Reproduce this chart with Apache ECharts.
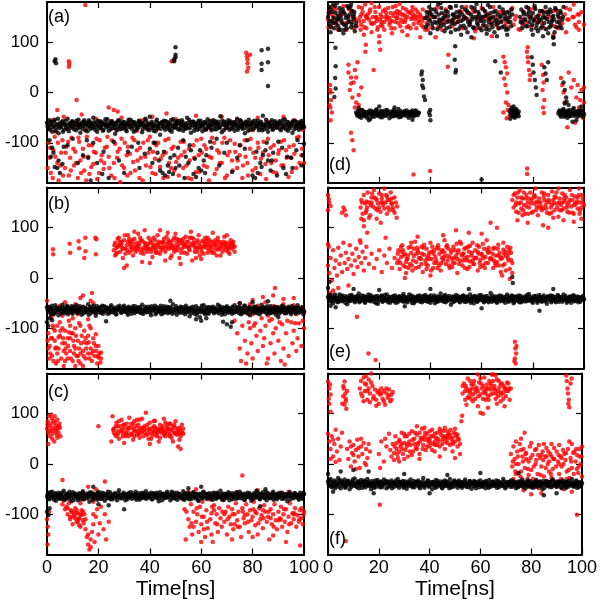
<!DOCTYPE html>
<html><head><meta charset="utf-8">
<script src="https://cdn.jsdelivr.net/npm/echarts@6/dist/echarts.min.js"></script>
<style>html,body{margin:0;padding:0;background:#fff}#c{width:600px;height:601px}</style>
</head><body><div id="c"></div>
<script>
// ---- tick labels / categories ----
const xTicks = [0, 20, 40, 60, 80, 100];
const yTicks = [-100, 0, 100];
const panelLabels = ['(a)', '(b)', '(c)', '(d)', '(e)', '(f)'];
const axisTitle = 'Time[ns]';

// ---- data: flat lists of time(ns), angle pairs ----
const aBlack = [
0,-60,0.5,-72,1,-65,1.5,-58,2,-78,2.5,-66,3,-54,3.5,-70,4,-63,4.5,-81,5,-61,5.5,-68,6,-57,6.5,-74,7,-64,7.5,-69,8,-52,8.5,-77,9,-62,9.5,-67,
10,-59,10.5,-73,11,-65,11.5,-56,12,-71,12.5,-63,13,-80,13.5,-60,14,-66,14.5,-55,15,-75,15.5,-62,16,-68,16.5,-58,17,-72,17.5,-64,18,-50,18.5,-69,19,-61,19.5,-78,
20,-66,20.5,-57,21,-70,21.5,-63,22,-74,22.5,-60,23,-67,23.5,-53,24,-76,24.5,-64,25,-59,25.5,-71,26,-65,26.5,-82,27,-61,27.5,-68,28,-56,28.5,-73,29,-63,29.5,-58,
30,-70,30.5,-66,31,-77,31.5,-60,32,-64,32.5,-54,33,-72,33.5,-67,34,-59,34.5,-75,35,-62,35.5,-69,36,-57,36.5,-65,37,-79,37.5,-61,38,-68,38.5,-55,39,-73,39.5,-64,
40,-48,40.5,-70,41,-62,41.5,-76,42,-66,42.5,-58,43,-71,43.5,-63,44,-84,44.5,-60,45,-67,45.5,-56,46,-74,46.5,-65,47,-59,47.5,-72,48,-62,48.5,-78,49,-53,49.5,-68,
50,-64,50.5,-57,51,-73,51.5,-61,52,-69,52.5,-55,53,-76,53.5,-63,54,-66,54.5,-50,55,-71,55.5,-60,56,-80,56.5,-65,57,-58,57.5,-70,58,-62,58.5,-74,59,-56,59.5,-67,
60,-61,60.5,-77,61,-64,61.5,-59,62,-72,62.5,-53,63,-68,63.5,-63,64,-75,64.5,-60,65,-66,65.5,-57,66,-73,66.5,-62,67,-69,67.5,-47,68,-79,68.5,-64,69,-58,69.5,-71,
70,-65,70.5,-55,71,-74,71.5,-61,72,-67,72.5,-59,73,-76,73.5,-63,74,-52,74.5,-70,75,-66,75.5,-57,76,-72,76.5,-62,77,-81,77.5,-60,78,-68,78.5,-54,79,-74,79.5,-64,
80,-58,80.5,-71,81,-63,81.5,-67,82,-56,82.5,-75,83,-61,83.5,-69,84,-46,84.5,-73,85,-65,85.5,-59,86,-78,86.5,-62,87,-66,87.5,-55,88,-72,88.5,-63,89,-60,89.5,-70,
90,-64,90.5,-57,91,-75,91.5,-61,92,-68,92.5,-53,93,-73,93.5,-65,94,-59,94.5,-71,95,-62,95.5,-80,96,-66,96.5,-56,97,-70,97.5,-63,98,-74,98.5,-58,99,-67,99.5,-61,100,-69,
1,-95,2,-110,1.5,-128,3,-148,4,-150,5,-160,6,-142,8,-105,10,-92,12,-140,14,-125,16,-130,17,-175,18,-100,22,-118,24,-170,26,-98,28,-135,30,-160,33,-108,
36,-150,38,-122,40,-112,41,-140,42,-100,43,-120,44,-155,45,-160,46,-165,47,-145,48,-130,49,-162,50,-150,51,-110,53,-95,54,-128,55,-140,56,-115,57,-162,58,-168,
59,-150,60,-155,61,-135,62,-125,64,-110,66,-92,67,-145,69,-120,70,-100,72,-158,74,-130,75,-105,77,-112,78,-95,80,-165,81,-170,82,-160,83,-140,84,-125,85,-115,
86,-135,87,-155,88,-120,90,-98,92,-150,93,-162,95,-130,97,-115,99,-145,100,-102,
41.5,-100,43.5,-135,45.5,-118,47.5,-158,49.5,-125,51.5,-145,53.5,-170,55.5,-105,57.5,-132,59.5,-115,61.5,-160,63.5,-98,2.5,-120,4.5,-135,6.5,-108,15.5,-95,19.5,-140,21.5,-162,
81.5,-118,83.5,-148,85.5,-100,87.5,-135,89.5,-165,91.5,-110,93.5,-128,95.5,-150,97.5,-95,99.5,-125,31.5,-118,35.5,-100,
3,62,3.3,66,3.5,58,49.5,62,49.5,66,50,70,50,75,50,90,83.5,84,83.5,57,83.5,45,86,87,86,60,86,13
];
const aBlackDense = [
0.25,-67,0.75,-55,1.25,-74,1.75,-62,2.25,-69,2.75,-58,3.25,-76,3.75,-64,4.25,-52,4.75,-71,5.25,-66,5.75,-59,6.25,-78,6.75,-63,7.25,-56,7.75,-72,8.25,-65,8.75,-61,9.25,-70,9.75,-57,
10.25,-68,10.75,-62,11.25,-75,11.75,-60,12.25,-54,12.75,-69,13.25,-64,13.75,-72,14.25,-58,14.75,-66,15.25,-61,15.75,-77,16.25,-55,16.75,-67,17.25,-63,17.75,-70,18.25,-59,18.75,-74,19.25,-65,19.75,-56,
20.25,-71,20.75,-62,21.25,-58,21.75,-76,22.25,-64,22.75,-53,23.25,-69,23.75,-61,24.25,-66,24.75,-73,25.25,-57,25.75,-63,26.25,-70,26.75,-60,27.25,-75,27.75,-55,28.25,-67,28.75,-62,29.25,-72,29.75,-65,
30.25,-59,30.75,-74,31.25,-63,31.75,-54,32.25,-69,32.75,-66,33.25,-58,33.75,-78,34.25,-62,34.75,-67,35.25,-71,35.75,-56,36.25,-64,36.75,-60,37.25,-73,37.75,-66,38.25,-52,38.75,-69,39.25,-61,39.75,-75,
40.25,-63,40.75,-58,41.25,-70,41.75,-65,42.25,-77,42.75,-54,43.25,-67,43.75,-61,44.25,-72,44.75,-59,45.25,-64,45.75,-70,46.25,-57,46.75,-68,47.25,-63,47.75,-75,48.25,-55,48.75,-66,49.25,-71,49.75,-60,
50.25,-69,50.75,-62,51.25,-56,51.75,-74,52.25,-65,52.75,-59,53.25,-68,53.75,-72,54.25,-61,54.75,-66,55.25,-54,55.75,-70,56.25,-63,56.75,-58,57.25,-76,57.75,-64,58.25,-67,58.75,-60,59.25,-72,59.75,-56,
60.25,-65,60.75,-69,61.25,-59,61.75,-74,62.25,-62,62.75,-66,63.25,-57,63.75,-71,64.25,-64,64.75,-55,65.25,-73,65.75,-61,66.25,-67,66.75,-58,67.25,-70,67.75,-63,68.25,-56,68.75,-75,69.25,-65,69.75,-60,
70.25,-68,70.75,-62,71.25,-57,71.75,-72,72.25,-64,72.75,-69,73.25,-59,73.75,-66,74.25,-74,74.75,-61,75.25,-55,75.75,-67,76.25,-63,76.75,-71,77.25,-58,77.75,-65,78.25,-76,78.75,-60,79.25,-68,79.75,-62,
80.25,-73,80.75,-56,81.25,-66,81.75,-61,82.25,-70,82.75,-64,83.25,-58,83.75,-75,84.25,-63,84.75,-67,85.25,-54,85.75,-71,86.25,-62,86.75,-68,87.25,-59,87.75,-74,88.25,-65,88.75,-57,89.25,-69,89.75,-63,
90.25,-60,90.75,-72,91.25,-66,91.75,-55,92.25,-70,92.75,-63,93.25,-58,93.75,-76,94.25,-64,94.75,-67,95.25,-61,95.75,-57,96.25,-73,96.75,-65,97.25,-59,97.75,-68,98.25,-62,98.75,-71,99.25,-56,99.75,-66
];
const aRed = [
0.5,-70,2,-55,3.5,-78,5,-62,6.5,-48,8,-72,10,-58,12,-66,13.5,-44,15,-75,17,-60,19,-52,21,-70,23,-63,25,-57,27,-74,29,-50,31,-68,33,-61,35,-76,
37,-55,39,-64,41,-48,43,-72,45,-59,46.5,-42,48,-67,50,-53,52,-62,54,-71,56,-58,58,-46,60,-65,62,-73,64,-56,66,-62,68,-48,70,-70,72,-60,74,-54,
76,-68,78,-63,80,-75,82,-50,84,-66,86,-58,88,-72,90,-61,92,-48,94,-69,96,-55,98,-64,99.5,-74,11.5,-15,4,-35,24,-30,26,-35,27.5,-38,
0.5,-100,1,-130,1.5,-160,2.5,-115,3,-88,4,-140,4.5,-175,5.5,-120,6,-95,7,-150,7.5,-108,8.5,-165,9,-130,9.5,-90,10.5,-145,11,-118,12,-170,12.5,-98,13,-135,14,-112,
14.5,-155,15.5,-88,16,-128,16.5,-162,17.5,-105,18,-142,19,-120,19.5,-172,20.5,-95,21,-135,22,-152,22.5,-110,23.5,-88,24,-128,25,-165,26,-140,26.5,-102,27.5,-118,28.5,-178,29,-92,
30,-150,31,-125,31.5,-108,32.5,-160,33.5,-138,34,-95,35,-115,36,-170,36.5,-130,37.5,-100,38.5,-145,39.5,-120,40,-88,41,-160,42,-132,42.5,-105,44,-148,45,-125,46,-95,47,-168,
47.5,-140,48.5,-112,49.5,-155,51,-130,52,-98,53,-150,53.5,-118,55,-170,55.5,-135,57,-105,58,-158,59,-125,60,-92,61,-145,62,-112,63,-175,64,-130,65,-100,66,-152,67,-120,
68,-140,69,-90,70,-165,71,-118,72,-135,73,-102,74,-150,75,-125,76,-170,77,-95,78,-140,79,-112,80,-155,81,-130,82,-100,83,-162,84,-120,85,-142,86,-92,87,-110,
88,-158,89,-135,90,-122,91,-98,92,-145,93,-115,94,-168,95,-130,96,-105,97,-150,98,-88,99,-125,100,-140,
0.25,-150,1.25,-110,2.25,-170,3.25,-128,4.25,-100,5.25,-145,6.25,-165,7.25,-120,8.25,-98,9.25,-155,10.25,-112,11.25,-140,12.25,-90,13.25,-160,14.25,-128,15.25,-175,16.25,-105,17.25,-148,18.25,-118,19.25,-92,
20.25,-160,21.25,-125,22.25,-140,23.25,-108,24.25,-150,25.25,-95,26.25,-170,27.25,-130,28.25,-112,29.25,-145,30.25,-100,31.25,-165,32.25,-122,33.25,-90,34.25,-155,35.25,-135,36.25,-110,37.25,-175,38.25,-128,39.25,-95,
40.25,-148,41.25,-118,42.25,-162,43.25,-100,44.25,-132,45.25,-170,46.25,-120,47.25,-92,48.25,-150,49.25,-108,50.25,-138,51.25,-165,52.25,-125,53.25,-98,54.25,-145,55.25,-112,56.25,-172,57.25,-130,58.25,-95,59.25,-158,
60.25,-120,61.25,-105,62.25,-148,63.25,-128,64.25,-90,65.25,-162,66.25,-115,67.25,-140,68.25,-100,69.25,-170,70.25,-125,71.25,-95,72.25,-155,73.25,-118,74.25,-135,75.25,-105,76.25,-145,77.25,-128,78.25,-165,79.25,-92,
80.25,-120,81.25,-150,82.25,-110,83.25,-132,84.25,-98,85.25,-172,86.25,-125,87.25,-140,88.25,-105,89.25,-160,90.25,-115,91.25,-145,92.25,-95,93.25,-130,94.25,-108,95.25,-158,96.25,-122,97.25,-90,98.25,-140,99.25,-112,
8.5,62,8.7,57,8.5,51,14.9,174,48.5,62,49,63,77.5,79,77.8,72,78,66,78,58,78.3,49,77.8,42,79,75
];
const bBlack = [
0,-58,0.5,-66,1,-61,1.5,-72,2,-55,2.5,-64,3,-69,3.5,-59,4,-63,4.5,-74,5,-60,5.5,-67,6,-53,6.5,-65,7,-70,7.5,-61,8,-58,8.5,-68,9,-63,9.5,-56,
10,-71,10.5,-62,11,-66,11.5,-54,12,-69,12.5,-60,13,-64,13.5,-73,14,-57,14.5,-65,15,-61,15.5,-68,16,-52,16.5,-63,17,-70,17.5,-59,18,-66,18.5,-62,19,-75,19.5,-56,
20,-64,20.5,-60,21,-69,21.5,-55,22,-67,22.5,-62,23,-58,23.5,-71,24,-63,24.5,-66,25,-54,25.5,-68,26,-61,26.5,-65,27,-72,27.5,-57,28,-63,28.5,-60,29,-69,29.5,-64,
30,-55,30.5,-67,31,-62,31.5,-73,32,-59,32.5,-65,33,-61,33.5,-56,34,-70,34.5,-63,35,-66,35.5,-58,36,-68,36.5,-62,37,-53,37.5,-71,38,-64,38.5,-60,39,-67,39.5,-57,
40,-65,40.5,-74,41,-61,41.5,-63,42,-55,42.5,-69,43,-62,43.5,-66,44,-59,44.5,-72,45,-64,45.5,-56,46,-67,46.5,-61,47,-70,47.5,-58,48,-65,48.5,-63,49,-52,49.5,-68,
50,-62,50.5,-73,51,-60,51.5,-66,52,-57,52.5,-64,53,-69,53.5,-61,54,-55,54.5,-67,55,-63,55.5,-76,56,-59,56.5,-65,57,-62,57.5,-71,58,-56,58.5,-68,59,-64,59.5,-78,
60,-60,60.5,-66,61,-54,61.5,-72,62,-63,62.5,-58,63,-69,63.5,-61,64,-65,64.5,-57,65,-70,65.5,-62,66,-67,66.5,-53,67,-64,67.5,-60,68,-73,68.5,-58,69,-66,69.5,-62,
70,-56,70.5,-69,71,-63,71.5,-60,72,-71,72.5,-65,73,-54,73.5,-67,74,-61,74.5,-64,75,-58,75.5,-72,76,-62,76.5,-66,77,-55,77.5,-69,78,-63,78.5,-59,79,-74,79.5,-61,
80,-65,80.5,-57,81,-68,81.5,-62,82,-70,82.5,-60,83,-64,83.5,-53,84,-67,84.5,-63,85,-59,85.5,-71,86,-61,86.5,-66,87,-56,87.5,-69,88,-64,88.5,-60,89,-73,89.5,-58,
90,-65,90.5,-62,91,-68,91.5,-55,92,-63,92.5,-70,93,-60,93.5,-66,94,-57,94.5,-64,95,-72,95.5,-61,96,-67,96.5,-59,97,-63,97.5,-54,98,-69,98.5,-62,99,-65,99.5,-58,100,-66,
0,-88,0.5,-95,1,-80,2,-84,23,-86,68.5,-87,70,-92,71.5,-97,72,-88,58,-82,60,-85,62,-80,75,-50,80,-48,86,-46,90,-78,48,-45
];
const bBlackDense = [
0.25,-63,0.75,-57,1.25,-68,1.75,-60,2.25,-65,2.75,-71,3.25,-54,3.75,-62,4.25,-67,4.75,-59,5.25,-64,5.75,-70,6.25,-58,6.75,-62,7.25,-66,7.75,-55,8.25,-72,8.75,-61,9.25,-65,9.75,-68,
10.25,-57,10.75,-63,11.25,-60,11.75,-69,12.25,-64,12.75,-56,13.25,-67,13.75,-61,14.25,-70,14.75,-59,15.25,-65,15.75,-62,16.25,-73,16.75,-57,17.25,-64,17.75,-66,18.25,-55,18.75,-69,19.25,-61,19.75,-63,
20.25,-68,20.75,-58,21.25,-64,21.75,-71,22.25,-56,22.75,-65,23.25,-62,23.75,-60,24.25,-70,24.75,-57,25.25,-63,25.75,-67,26.25,-59,26.75,-72,27.25,-64,27.75,-61,28.25,-55,28.75,-68,29.25,-62,29.75,-58,
30.25,-66,30.75,-60,31.25,-69,31.75,-57,32.25,-63,32.75,-71,33.25,-65,33.75,-62,34.25,-56,34.75,-67,35.25,-61,35.75,-64,36.25,-58,36.75,-70,37.25,-63,37.75,-66,38.25,-57,38.75,-68,39.25,-62,39.75,-60,
40.25,-69,40.75,-56,41.25,-65,41.75,-61,42.25,-72,42.75,-58,43.25,-64,43.75,-67,44.25,-55,44.75,-63,45.25,-70,45.75,-60,46.25,-65,46.75,-57,47.25,-62,47.75,-68,48.25,-59,48.75,-71,49.25,-64,49.75,-61,
50.25,-56,50.75,-66,51.25,-63,51.75,-69,52.25,-60,52.75,-58,53.25,-65,53.75,-72,54.25,-62,54.75,-59,55.25,-67,55.75,-61,56.25,-70,56.75,-57,57.25,-64,57.75,-66,58.25,-73,58.75,-60,59.25,-63,59.75,-68,
60.25,-55,60.75,-64,61.25,-69,61.75,-60,62.25,-66,62.75,-71,63.25,-58,63.75,-63,64.25,-61,64.75,-67,65.25,-59,65.75,-65,66.25,-62,66.75,-70,67.25,-56,67.75,-64,68.25,-68,68.75,-61,69.25,-72,69.75,-59,
70.25,-65,70.75,-60,71.25,-67,71.75,-63,72.25,-57,72.75,-69,73.25,-62,73.75,-66,74.25,-58,74.75,-70,75.25,-63,75.75,-60,76.25,-68,76.75,-55,77.25,-65,77.75,-62,78.25,-71,78.75,-58,79.25,-64,79.75,-67,
80.25,-61,80.75,-69,81.25,-57,81.75,-65,82.25,-63,82.75,-72,83.25,-60,83.75,-66,84.25,-58,84.75,-62,85.25,-68,85.75,-56,86.25,-64,86.75,-70,87.25,-61,87.75,-63,88.25,-67,88.75,-57,89.25,-65,89.75,-62,
90.25,-71,90.75,-59,91.25,-64,91.75,-66,92.25,-58,92.75,-62,93.25,-69,93.75,-60,94.25,-65,94.75,-68,95.25,-56,95.75,-64,96.25,-61,96.75,-70,97.25,-66,97.75,-59,98.25,-63,98.75,-67,99.25,-60,99.75,-72
];
const bRed = [
0,-45,0.5,-110,1,-135,1.5,-80,2,-155,2.5,-100,3,-125,3.5,-170,4,-95,4.5,-140,5,-115,5.5,-160,6,-130,6.5,-175,7,-105,7.5,-150,8,-120,8.5,-85,9,-145,9.5,-110,
10,-165,10.5,-135,11,-100,11.5,-155,12,-125,12.5,-90,13,-170,13.5,-115,14,-145,14.5,-105,15,-160,15.5,-130,16,-150,16.5,-95,17,-140,17.5,-165,18,-120,18.5,-155,19,-112,19.5,-170,
20,-135,20.5,-150,21,-160,0.5,-140,1,-160,2,-120,3,-105,4,-150,5,-88,6,-100,7,-130,8,-160,9,-120,10,-110,11,-140,12,-155,13,-95,14,-175,15,-120,16,-115,
17,-100,18,-145,19,-135,20,-158,21,-148,20.8,-168,19.8,-155,2.5,-165,4.5,-118,6.5,-145,8.5,-108,10.5,-150,12.5,-140,14.5,-128,16.5,-160,11,-175,13,-150,7,-165,9,-95,1.5,-120,3.5,-138,
0.25,-125,1.25,-150,2.25,-95,3.25,-140,4.25,-165,5.25,-105,6.25,-120,7.25,-140,8.25,-135,9.25,-160,10.25,-125,11.25,-115,12.25,-165,13.25,-130,14.25,-155,15.25,-140,16.25,-128,17.25,-150,18.25,-130,19.25,-145,
1,-60,3,-70,5,-55,7,-48,9,-65,11,-52,13,-40,14,-35,15,-60,17,-45,19,-70,6,-75,10,-80,12,-72,16,-82,18,-50,4,-62,8,-58,2,-75,20,-62,17.5,-30,
2.3,57,2.4,47,8.8,68,9,50,12.3,73,12.5,59,14.9,80,15,53,14.5,40,18.8,80,19.2,77,19,47,
26,55,26.5,70,27,48,27.5,62,28,80,28.5,52,29,68,29.5,40,30,75,30.5,58,31,65,31.5,85,32,50,32.5,72,33,60,33.5,45,34,78,34.5,62,35,55,35.5,88,
36,68,36.5,50,37,74,37.5,60,38,95,38.5,65,39,52,39.5,80,40,58,40.5,70,41,42,41.5,66,42,75,42.5,55,43,85,43.5,62,44,48,44.5,70,45,60,45.5,78,
46,52,46.5,68,47,90,47.5,58,48,72,48.5,45,49,65,49.5,80,50,55,50.5,70,51,62,51.5,40,52,75,52.5,58,53,68,53.5,50,54,82,54.5,62,55,72,55.5,55,
56,65,56.5,35,57,78,57.5,60,58,70,58.5,52,59,85,59.5,64,60,58,60.5,74,61,48,61.5,68,62,60,62.5,80,63,55,63.5,70,64,62,64.5,90,65,50,65.5,75,
66,65,66.5,56,67,72,67.5,45,68,68,68.5,60,69,82,69.5,55,70,70,70.5,62,71,48,71.5,75,72,58,72.5,65,73,52,
26.5,45,27.5,78,28.5,65,29.5,58,30.5,48,31.5,72,32.5,62,33.5,68,34.5,52,35.5,65,36.5,75,37.5,48,38.5,58,39.5,68,40.5,52,41.5,80,42.5,65,43.5,72,44.5,55,45.5,62,
46.5,82,47.5,70,48.5,60,49.5,52,50.5,78,51.5,68,52.5,72,53.5,62,54.5,48,55.5,80,56.5,68,57.5,52,58.5,75,59.5,45,60.5,62,61.5,80,62.5,50,63.5,62,64.5,72,65.5,58,
66.5,80,67.5,65,68.5,72,69.5,62,70.5,52,71.5,65,72.5,72,30,20,31,25,40,30,52,28,46,35,60,38,37,32,28,65,34,92,44,95,50,88,56,92,62,75,
70,85,66,45,58,40,48,40,42,60,38,70,54,65,64,55,72,70,36,58,32,78,27,60,29,72,33,55,35,70,39,62,41,58,43,50,45,70,47,62,
49,75,51,55,53,78,55,62,57,70,59,60,61,72,63,65,65,68,67,58,69,66,71,60,73,62,
26.25,65,27.25,50,28.25,72,29.25,60,30.25,85,31.25,55,32.25,68,33.25,75,34.25,58,35.25,62,36.25,80,37.25,55,38.25,68,39.25,58,40.25,75,41.25,62,42.25,50,43.25,68,44.25,60,45.25,72,
46.25,58,47.25,75,48.25,65,49.25,58,50.25,62,51.25,75,52.25,50,53.25,65,54.25,72,55.25,58,56.25,80,57.25,65,58.25,60,59.25,70,60.25,52,61.25,62,62.25,68,63.25,75,64.25,50,65.25,65,
66.25,72,67.25,60,68.25,52,69.25,70,70.25,58,71.25,68,72.25,62,
73,-85,74,-110,75,-140,75.5,-165,76,-95,77,-125,77.5,-170,78,-150,79,-100,79.5,-130,80,-160,81,-90,81.5,-115,82,-145,83,-105,84,-135,84.5,-120,85,-95,86,-160,86.5,-85,
87,-130,88,-110,88.5,-150,89,-100,90,-125,91,-165,91.5,-92,92,-140,93,-110,94,-155,95,-88,95.5,-130,96,-105,97,-145,97.5,-120,98,-90,99,-135,100,-100,99.5,-85,78.5,-88,
80.5,-95,83.5,-80,87.5,-82,90.5,-88,93.5,-85,96.5,-90,85.5,-170,92.5,-172,
74,-60,75,-50,76,-70,77,-58,78,-65,79,-52,80,-72,81,-62,82,-55,83,-68,84,-60,85,-48,86,-75,87,-62,88,-56,89,-68,90,-58,91,-64,92,-52,93,-70,
94,-60,95,-66,96,-54,97,-72,98,-62,99,-58,100,-68,88,-35,96,-40,92,-42,80,-44,84,-38,88.7,-20
];
const cBlack = [
0,-65,0.5,-58,1,-70,1.5,-62,2,-55,2.5,-67,3,-60,3.5,-73,4,-64,4.5,-57,5,-68,5.5,-61,6,-66,6.5,-53,7,-71,7.5,-63,8,-59,8.5,-69,9,-62,9.5,-74,
10,-56,10.5,-65,11,-60,11.5,-67,12,-72,12.5,-58,13,-64,13.5,-61,14,-54,14.5,-70,15,-63,15.5,-66,16,-59,16.5,-75,17,-62,17.5,-57,18,-68,18.5,-64,19,-60,19.5,-71,
20,-55,20.5,-66,21,-62,21.5,-69,22,-58,22.5,-73,23,-63,23.5,-60,24,-67,24.5,-56,25,-64,25.5,-70,26,-61,26.5,-58,27,-66,27.5,-63,28,-52,28.5,-68,29,-62,29.5,-65,
30,-59,30.5,-72,31,-60,31.5,-66,32,-57,32.5,-64,33,-69,33.5,-61,34,-63,34.5,-55,35,-67,35.5,-62,36,-71,36.5,-58,37,-65,37.5,-60,38,-68,38.5,-54,39,-63,39.5,-66,
40,-61,40.5,-57,41,-70,41.5,-64,42,-59,42.5,-67,43,-62,43.5,-74,44,-56,44.5,-65,45,-60,45.5,-68,46,-63,46.5,-58,47,-66,47.5,-61,48,-72,48.5,-55,49,-64,49.5,-62,
50,-69,50.5,-57,51,-65,51.5,-60,52,-67,52.5,-63,53,-54,53.5,-71,54,-61,54.5,-66,55,-58,55.5,-64,56,-70,56.5,-62,57,-56,57.5,-68,58,-60,58.5,-65,59,-73,59.5,-59,
60,-63,60.5,-67,61,-55,61.5,-62,62,-69,62.5,-61,63,-58,63.5,-66,64,-64,64.5,-71,65,-57,65.5,-63,66,-68,66.5,-60,67,-65,67.5,-53,68,-70,68.5,-62,69,-59,69.5,-67,
70,-64,70.5,-56,71,-72,71.5,-61,72,-66,72.5,-58,73,-63,73.5,-69,74,-60,74.5,-65,75,-55,75.5,-68,76,-62,76.5,-59,77,-71,77.5,-64,78,-57,78.5,-66,79,-61,79.5,-73,
80,-63,80.5,-58,81,-67,81.5,-53,82,-65,82.5,-60,83,-69,83.5,-62,84,-56,84.5,-66,85,-61,85.5,-72,86,-58,86.5,-64,87,-68,87.5,-60,88,-55,88.5,-67,89,-63,89.5,-70,
90,-59,90.5,-65,91,-62,91.5,-57,92,-69,92.5,-64,93,-60,93.5,-74,94,-63,94.5,-56,95,-66,95.5,-61,96,-68,96.5,-58,97,-65,97.5,-62,98,-71,98.5,-57,99,-64,99.5,-67,100,-60,
0,-95,0.5,-102,1,-88,24,-82,30,-90,20,-80,18,-45,55,-48,85,-50,83,-84,60,-45
];
const cBlackDense = [
0.25,-60,0.75,-68,1.25,-56,1.75,-65,2.25,-62,2.75,-71,3.25,-58,3.75,-66,4.25,-61,4.75,-69,5.25,-63,5.75,-57,6.25,-70,6.75,-64,7.25,-59,7.75,-67,8.25,-62,8.75,-55,9.25,-66,9.75,-61,
10.25,-72,10.75,-58,11.25,-64,11.75,-62,12.25,-67,12.75,-60,13.25,-70,13.75,-57,14.25,-65,14.75,-63,15.25,-59,15.75,-68,16.25,-62,16.75,-56,17.25,-66,17.75,-71,18.25,-60,18.75,-64,19.25,-67,19.75,-58,
20.25,-63,20.75,-69,21.25,-57,21.75,-65,22.25,-62,22.75,-60,23.25,-68,23.75,-55,24.25,-64,24.75,-70,25.25,-61,25.75,-66,26.25,-59,26.75,-63,27.25,-72,27.75,-58,28.25,-65,28.75,-61,29.25,-68,29.75,-57,
30.25,-64,30.75,-62,31.25,-70,31.75,-59,32.25,-66,32.75,-56,33.25,-63,33.75,-67,34.25,-60,34.75,-71,35.25,-58,35.75,-65,36.25,-62,36.75,-68,37.25,-57,37.75,-64,38.25,-61,38.75,-69,39.25,-59,39.75,-63,
40.25,-66,40.75,-70,41.25,-58,41.75,-62,42.25,-65,42.75,-57,43.25,-68,43.75,-61,44.25,-64,44.75,-72,45.25,-59,45.75,-63,46.25,-67,46.75,-55,47.25,-65,47.75,-62,48.25,-60,48.75,-68,49.25,-57,49.75,-66,
50.25,-63,50.75,-71,51.25,-59,51.75,-64,52.25,-61,52.75,-69,53.25,-62,53.75,-58,54.25,-67,54.75,-63,55.25,-70,55.75,-60,56.25,-65,56.75,-57,57.25,-63,57.75,-66,58.25,-59,58.75,-72,59.25,-64,59.75,-61,
60.25,-68,60.75,-56,61.25,-65,61.75,-62,62.25,-60,62.75,-67,63.25,-63,63.75,-70,64.25,-58,64.75,-64,65.25,-61,65.75,-69,66.25,-57,66.75,-65,67.25,-62,67.75,-66,68.25,-59,68.75,-71,69.25,-63,69.75,-60,
70.25,-67,70.75,-62,71.25,-58,71.75,-65,72.25,-70,72.75,-61,73.25,-64,73.75,-56,74.25,-68,74.75,-62,75.25,-59,75.75,-66,76.25,-63,76.75,-71,77.25,-60,77.75,-65,78.25,-62,78.75,-58,79.25,-67,79.75,-64,
80.25,-69,80.75,-61,81.25,-63,81.75,-57,82.25,-66,82.75,-70,83.25,-59,83.75,-64,84.25,-62,84.75,-68,85.25,-56,85.75,-65,86.25,-61,86.75,-67,87.25,-63,87.75,-58,88.25,-71,88.75,-62,89.25,-60,89.75,-66,
90.25,-64,90.75,-57,91.25,-69,91.75,-62,92.25,-65,92.75,-60,93.25,-67,93.75,-63,94.25,-59,94.75,-70,95.25,-62,95.75,-66,96.25,-58,96.75,-64,97.25,-61,97.75,-68,98.25,-63,98.75,-60,99.25,-69,99.75,-57
];
const cRed = [
0,70,0.3,85,0.5,62,0.8,95,1,75,1.2,55,1.5,80,1.8,68,2,90,2.2,60,2.5,72,2.8,45,3,82,3.2,65,3.5,76,3.8,58,4,88,4.2,70,4.5,62,4.8,80,
5,72,5.2,55,0.5,40,2,50,3,95,4,52,1,65,3.5,68,0.2,78,2.6,85,4.6,75,1.5,98,
0,-110,0.3,-125,0.5,-140,0.2,-160,0.8,-95,
5.5,-65,6,-80,6.5,-72,7,-90,7.5,-85,8,-100,8.5,-78,9,-110,9.5,-95,10,-120,10.5,-102,11,-88,11.5,-115,12,-98,12.5,-108,13,-125,13.5,-92,14,-112,14.5,-100,15,-130,
15.5,-145,16,-160,16.5,-170,17,-150,17.5,-135,18,-120,18.5,-155,19,-105,19.5,-90,20,-140,20.5,-118,21,-85,22,-130,22.5,-100,23,-150,24,-115,10,-95,11,-108,12,-115,13,-100,
14,-95,9,-105,15,-110,16,-140,17,-165,18,-100,8,-88,12.5,-122,11.5,-92,6,-32,16,-45,17,-60,21,-65,22.5,-35,19,-50,14,-70,18,-75,20,-68,13,-78,
10.25,-105,11.25,-98,12.25,-110,13.25,-102,14.25,-118,9.25,-92,
20,75,
25,45,25.5,95,26,70,26.5,58,27,82,27.5,65,28,50,28.5,75,29,88,29.5,62,30,70,30.5,55,31,80,31.5,68,32,92,32.5,60,33,72,33.5,48,34,85,34.5,65,
35,58,35.5,78,36,70,36.5,62,37,90,37.5,55,38,75,38.5,102,39,68,39.5,60,40,82,40.5,50,41,72,41.5,64,42,86,42.5,58,43,70,43.5,45,44,78,44.5,62,
45,68,45.5,90,46,55,46.5,72,47,60,47.5,80,48,66,48.5,52,49,75,49.5,62,50,85,50.5,58,51,70,51.5,48,52,65,52.5,78,53,60,
26,62,27,55,28,85,29,68,30,78,31,60,32,72,33,58,34,70,35,88,36,52,37,65,38,62,39,78,40,68,41,56,42,72,43,62,44,52,45,75,
46,82,47,68,48,58,49,45,50,72,51,62,52,55,53,70,27.5,75,29.5,55,31.5,72,33.5,80,35.5,65,37.5,72,39.5,50,41.5,85,43.5,66,45.5,58,47.5,70,49.5,78,
51.5,60,52,30,51,35,40,40,30,42,36,88,44,70,48,80,34,55,42,65,46,64,
25.75,68,26.75,75,27.75,60,28.75,65,29.75,78,30.75,62,31.75,55,32.75,80,33.75,65,34.75,75,35.75,60,36.75,72,37.75,68,38.75,58,39.75,70,40.75,62,41.75,75,42.75,55,43.75,65,44.75,70,
45.75,62,46.75,78,47.75,55,48.75,68,49.75,60,50.75,65,51.75,72,52.75,62,
53,-70,53.5,-90,54,-150,54.5,-60,55,-110,55.5,-125,56,-80,56.5,-140,57,-95,57.5,-65,58,-115,58.5,-100,59,-135,59.5,-85,60,-120,60.5,-75,61,-105,61.5,-145,62,-92,62.5,-128,
63,-70,63.5,-110,64,-98,64.5,-155,65,-82,65.5,-118,66,-100,66.5,-135,67,-88,67.5,-108,68,-125,68.5,-72,69,-115,69.5,-95,70,-140,70.5,-85,71,-105,71.5,-120,72,-90,72.5,-130,
73,-100,73.5,-78,74,-112,74.5,-95,75,-125,75.5,-145,76,-88,76.5,-108,77,-118,77.5,-80,78,-100,78.5,-135,79,-92,79.5,-112,80,-105,80.5,-75,81,-122,81.5,-98,82,-140,82.5,-88,
83,-110,83.5,-102,84,-128,84.5,-82,85,-95,85.5,-115,86,-105,86.5,-150,87,-90,87.5,-120,88,-100,88.5,-80,89,-112,89.5,-130,90,-95,90.5,-108,91,-85,91.5,-125,92,-100,92.5,-115,
93,-90,93.5,-135,94,-105,94.5,-78,95,-118,95.5,-98,96,-110,96.5,-88,97,-125,97.5,-102,98,-115,98.5,-92,99,-108,99.5,-120,100,-95,
55,-55,58,-50,62,-60,66,-58,70,-62,74,-56,78,-65,82,-52,86,-60,90,-58,94,-55,98,-62,76,-23,98.5,-162,60,-155,72,-150,80,-145,88,-142,64,-140,93,-155,
77,-102,84,-92,91,-110,96,-100,99,-88,87,-108,81,-95,73,-120,69,-100,65,-92,61,-130,57,-125,
54.25,-95,56.25,-118,58.25,-88,60.25,-105,62.25,-115,64.25,-85,66.25,-120,68.25,-95,70.25,-110,72.25,-100,74.25,-125,76.25,-95,78.25,-115,80.25,-90,82.25,-118,84.25,-108,86.25,-95,88.25,-125,90.25,-112,92.25,-90,
94.25,-120,96.25,-98,98.25,-110,99.75,-100
];
const dBlack = [
0,150,0.5,135,1,165,1.5,142,2,175,2.5,128,3,158,3.5,145,4,132,4.5,168,5,152,5.5,138,6,160,6.5,125,7,148,7.5,172,8,140,8.5,155,9,130,9.5,162,
10,145,10.5,122,11,138,1,120,3.5,178,6,118,8,168,10,155,4,145,7,135,
0.25,158,0.75,142,1.25,130,1.75,160,2.25,148,2.75,172,3.25,138,3.75,152,4.25,125,4.75,160,5.25,145,5.75,165,6.25,135,6.75,155,7.25,128,7.75,150,8.25,142,8.75,170,9.25,136,9.75,150,
10.25,160,10.75,132,0.5,170,2,138,5,125,9,175,
2.9,89,3,52,2.8,29,3,8,2.5,-9,
11,-40,11.5,-46,12,-38,12.5,-44,13,-50,13.5,-36,14,-42,14.5,-47,15,-39,15.5,-45,16,-41,16.5,-52,17,-37,17.5,-43,18,-48,18.5,-40,19,-34,19.5,-45,20,-42,20.5,-49,
21,-38,21.5,-44,22,-40,22.5,-46,23,-35,23.5,-43,24,-51,24.5,-41,25,-38,25.5,-47,26,-43,26.5,-39,27,-45,27.5,-33,28,-42,28.5,-48,29,-40,29.5,-44,30,-37,30.5,-46,
31,-41,31.5,-50,32,-39,32.5,-43,33,-36,33.5,-47,34,-42,34.5,-38,35,-45,35.5,-41,12,-31,20,-28,16,-55,26,-30,33,-54,
11.25,-43,11.75,-37,12.25,-48,12.75,-41,13.25,-35,13.75,-45,14.25,-39,14.75,-44,15.25,-50,15.75,-40,16.25,-36,16.75,-43,17.25,-47,17.75,-39,18.25,-42,18.75,-35,19.25,-46,19.75,-40,20.25,-44,20.75,-37,
21.25,-49,21.75,-42,22.25,-36,22.75,-45,23.25,-40,23.75,-38,24.25,-44,24.75,-47,25.25,-41,25.75,-35,26.25,-46,26.75,-40,27.25,-43,27.75,-49,28.25,-37,28.75,-42,29.25,-45,29.75,-39,30.25,-41,30.75,-36,
31.25,-44,31.75,-40,32.25,-47,32.75,-38,33.25,-42,33.75,-45,34.25,-36,34.75,-43,35.25,-40,
36.7,42,36.5,36,37,25,36.8,14,37.2,9,37.5,-8,37.9,-15,39.9,-35,39.8,-45,40,-55,39.5,-40,
38,148,38.5,160,39,135,39.5,170,40,142,40.5,155,41,128,41.5,165,42,150,42.5,138,43,175,43.5,145,44,132,44.5,158,45,148,45.5,122,46,162,46.5,140,47,152,47.5,130,
48,168,48.5,144,49,155,49.5,136,50,172,50.5,150,51,126,51.5,160,52,142,52.5,155,53,133,53.5,165,54,147,54.5,120,55,158,55.5,140,56,170,56.5,150,57,128,57.5,162,
58,145,58.5,135,59,155,59.5,148,60,124,60.5,166,61,142,61.5,152,62,132,62.5,174,63,146,63.5,158,64,136,64.5,150,65,120,65.5,162,66,144,66.5,138,67,170,67.5,152,
68,130,68.5,158,69,146,69.5,125,70,160,70.5,140,71,150,71.5,132,72,155,40,118,44,178,52,115,58,176,66,112,62,117,48,120,56,110,63,125,70,115,
38.25,130,38.75,152,39.25,145,39.75,158,40.25,165,40.75,136,41.25,150,41.75,140,42.25,160,42.75,126,43.25,155,43.75,138,44.25,168,44.75,145,45.25,135,45.75,152,46.25,128,46.75,160,47.25,142,47.75,170,
48.25,138,48.75,155,49.25,148,49.75,125,50.25,160,50.75,140,51.25,152,51.75,132,52.25,170,52.75,145,53.25,150,53.75,128,54.25,162,54.75,140,55.25,134,55.75,155,56.25,145,56.75,130,57.25,168,57.75,150,
58.25,138,58.75,160,59.25,128,59.75,142,60.25,150,60.75,135,61.25,162,61.75,126,62.25,155,62.75,140,63.25,170,63.75,148,64.25,130,64.75,160,65.25,142,65.75,135,66.25,155,66.75,128,67.25,150,67.75,140,
68.25,165,68.75,132,69.25,152,69.75,145,70.25,126,70.75,158,71.25,140,71.75,165,
49.7,92,49.5,65,50,45,49.8,40,65.3,62,67.5,40,
71,-38,71.5,-45,72,-35,72.5,-48,73,-40,73.5,-33,74,-44,74.5,-38,72,-42,73,-50,71.8,-30,73.8,-46,72.8,-36,74.2,-42,71.2,-52,72.5,-28,
71.5,-40,72.2,-46,72.7,-38,73.2,-44,73.7,-36,74.5,-47,71.3,-35,73.5,-42,
75,150,75.5,165,76,138,76.5,155,77,145,77.5,170,78,132,78.5,160,79,148,79.5,125,80,158,80.5,142,81,166,81.5,135,82,152,82.5,144,83,128,83.5,162,84,150,84.5,138,
85,170,85.5,146,86,156,86.5,130,87,160,87.5,142,88,152,88.5,120,89,165,89.5,140,90,150,90.5,132,91,158,91.5,145,92,170,80,115,84,112,88,110,82,122,86,118,
75.25,140,75.75,128,76.25,160,76.75,145,77.25,132,77.75,155,78.25,168,78.75,140,79.25,152,79.75,135,80.25,145,80.75,172,81.25,128,81.75,150,82.25,140,82.75,162,83.25,145,83.75,132,84.25,158,84.75,148,
85.25,126,85.75,160,86.25,140,86.75,165,87.25,135,87.75,150,88.25,145,88.75,168,89.25,130,89.75,155,90.25,140,90.75,162,91.25,128,91.75,150,
79.6,70,80,55,80.3,40,80.8,25,81.2,10,81.5,-5,84.5,50,85,38,85.5,25,86,60,88,109,88.2,96,92,20,92.5,5,93,-10,93.2,-18,
90,-42,90.5,-36,91,-48,91.5,-40,92,-33,92.5,-45,93,-38,93.5,-50,94,-42,94.5,-35,95,-46,95.5,-40,96,-31,96.5,-44,97,-38,97.5,-48,98,-41,98.5,-36,99,-45,99.5,-39,
100,-43,94,-25,97,-55,99,-28,92.5,-22,95.5,-58,
90.25,-38,90.75,-45,91.25,-41,91.75,-35,92.25,-48,92.75,-40,93.25,-44,93.75,-36,94.25,-47,94.75,-39,95.25,-42,95.75,-34,96.25,-46,96.75,-40,97.25,-43,97.75,-37,98.25,-45,98.75,-41,99.25,-36,99.75,-48,
60,-173
];
const dRed = [
0,145,0.5,160,1,132,1.5,170,2,150,2.5,140,3,165,4,125,5,155,6,172,7,138,8,150,9,162,10,128,11,145,12,170,12.5,150,13,135,13.5,160,14,142,
14.5,175,15,128,15.5,155,16,145,16.5,165,17,120,17.5,150,18,138,18.5,160,19,148,19.5,130,20,170,20.5,155,21,140,21.5,162,22,125,22.5,150,23,145,23.5,168,24,135,
24.5,158,25,142,25.5,152,26,128,26.5,172,27,148,27.5,138,28,160,28.5,145,29,122,29.5,155,30,140,30.5,165,31,150,31.5,132,32,158,32.5,146,33,170,33.5,136,34,152,
34.5,128,35,160,35.5,143,36,155,36.5,134,37,165,37.5,148,38,125,14,115,20,112,25,118,31,114,36,110,17,178,28,176,22,140,30,152,34,145,26,158,19,142,
15,150,24,148,33,150,29,140,13,155,21,150,27,162,
0.25,130,1.25,155,2.25,168,3.25,135,4.25,150,5.25,140,6.25,158,7.25,125,8.25,165,9.25,140,10.25,150,11.25,132,12.25,142,13.25,168,14.25,130,15.25,148,16.25,160,17.25,136,18.25,170,19.25,125,
20.25,145,21.25,132,22.25,165,23.25,150,24.25,140,25.25,170,26.25,140,27.25,155,28.25,132,29.25,168,30.25,145,31.25,160,32.25,128,33.25,155,34.25,165,35.25,138,36.25,150,37.25,130,
12.75,125,14.75,152,16.75,138,18.75,150,20.75,135,22.75,158,24.75,128,26.75,148,28.75,155,30.75,130,32.75,162,34.75,150,36.75,142,
0.8,15,1,0,1.2,-15,0.9,-30,1.5,-40,0.5,-25,1,-55,0.8,5,
8,40,9,30,10,20,8.5,5,9.5,-10,11,-20,10.5,-30,12,-5,13,10,12.5,-35,9,-80,9.5,-95,10,-115,8,55,10.5,45,11,30,9,18,11.5,60,12,-25,
14.6,81,14.8,95,17.8,45,20.4,85,20,100,47,75,46.8,51,
38.5,138,39.5,160,40.5,130,41.5,150,42.5,168,43.5,142,44.5,125,45.5,155,46.5,145,47.5,170,48.5,132,49.5,152,50.5,140,51.5,162,52.5,128,53.5,148,54.5,158,55.5,136,56.5,165,57.5,122,
58.5,150,59.5,143,60.5,132,61.5,160,62.5,146,63.5,135,64.5,170,65.5,150,66.5,128,67.5,142,68.5,160,69.5,138,70.5,148,71.5,165,72.5,135,73.5,152,74.5,126,75.5,145,76.5,160,77.5,140,
78.5,150,79.5,132,80.5,168,81.5,145,82.5,155,83.5,138,84.5,128,85.5,160,86.5,150,87.5,142,88.5,132,89.5,162,90.5,148,91.5,138,92.5,155,93.5,145,94.5,165,95.5,150,96.5,135,97.5,155,
98,140,42,110,57,108,64,112,88,114,93,120,96,175,98,125,
40,150,43,130,46,165,49,140,52,160,55,145,58,128,61,150,64,140,67,160,70,130,73,145,76,135,79,165,82,140,85,150,88,162,91,135,94,145,97,130,
99,160,100,135,39,125,45,140,51,148,57,160,63,152,69,158,75,125,81,150,87,132,93,168,96,150,98,155,60,168,54,170,66,135,72,168,84,162,90,128,
68.5,71,69,60,69.5,50,70,38,68.8,28,69.3,15,70,0,69.5,-20,70.2,-35,69.8,-51,71,-45,68.5,-40,70.5,-25,
77.7,81,78,70,78.2,60,78.5,45,79,35,78.8,25,78,90,
84,35,84.2,20,83.8,5,84.5,-15,84,-30,84.3,-41,83.5,55,
91,29,91.5,15,92,0,92.5,-20,93,-45,93.5,-69,95,10,96,25,97,-10,98,-30,99,5,99.5,-50,100,-20,96.5,-60,97.5,15,94,40,98.5,-15,100,10,
33.4,-163,39.9,-156,77.8,-151,77.8,-162
];
const eBlack = [
0,-38,0.5,-45,1,-34,1.5,-42,2,-50,2.5,-37,3,-44,3.5,-40,4,-47,4.5,-33,5,-41,5.5,-46,6,-36,6.5,-43,7,-39,7.5,-52,8,-41,8.5,-35,9,-45,9.5,-38,
10,-43,10.5,-48,11,-37,11.5,-42,12,-31,12.5,-46,13,-40,13.5,-44,14,-36,14.5,-49,15,-41,15.5,-38,16,-45,16.5,-34,17,-43,17.5,-40,18,-47,18.5,-37,19,-42,19.5,-51,
20,-39,20.5,-44,21,-35,21.5,-46,22,-40,22.5,-43,23,-33,23.5,-48,24,-41,24.5,-38,25,-45,25.5,-36,26,-42,26.5,-49,27,-39,27.5,-44,28,-37,28.5,-41,29,-46,29.5,-32,
30,-43,30.5,-40,31,-48,31.5,-38,32,-44,32.5,-35,33,-42,33.5,-50,34,-39,34.5,-45,35,-36,35.5,-41,36,-47,36.5,-38,37,-43,37.5,-40,38,-34,38.5,-46,39,-42,39.5,-37,
40,-49,40.5,-41,41,-44,41.5,-35,42,-40,42.5,-47,43,-38,43.5,-43,44,-31,44.5,-45,45,-40,45.5,-36,46,-48,46.5,-42,47,-39,47.5,-44,48,-53,48.5,-37,49,-41,49.5,-46,
50,-34,50.5,-43,51,-40,51.5,-48,52,-38,52.5,-44,53,-36,53.5,-41,54,-47,54.5,-39,55,-43,55.5,-33,56,-45,56.5,-40,57,-50,57.5,-37,58,-42,58.5,-46,59,-35,59.5,-41,
60,-44,60.5,-38,61,-48,61.5,-40,62,-36,62.5,-45,63,-42,63.5,-30,64,-47,64.5,-39,65,-43,65.5,-37,66,-49,66.5,-41,67,-35,67.5,-44,68,-40,68.5,-46,69,-38,69.5,-42,
70,-33,70.5,-47,71,-40,71.5,-44,72,-36,72.5,-50,73,-41,73.5,-38,74,-45,74.5,-35,75,-42,75.5,-48,76,-39,76.5,-43,77,-37,77.5,-46,78,-40,78.5,-32,79,-44,79.5,-41,
80,-49,80.5,-36,81,-43,81.5,-39,82,-46,82.5,-34,83,-42,83.5,-47,84,-38,84.5,-44,85,-40,85.5,-51,86,-37,86.5,-43,87,-35,87.5,-45,88,-41,88.5,-38,89,-48,89.5,-42,
90,-36,90.5,-44,91,-40,91.5,-47,92,-33,92.5,-43,93,-39,93.5,-46,94,-41,94.5,-37,95,-49,95.5,-42,96,-35,96.5,-45,97,-40,97.5,-44,98,-38,98.5,-47,99,-41,99.5,-36,100,-43,
0,-20,0.5,-8,1,-55,3,-58,60,-60,72,2,72.2,-10,82.6,-65,40,-22,20,-24,55,-22,88,-22,30,-56,10,-22
];
const eBlackDense = [
0.25,-41,0.75,-36,1.25,-47,1.75,-39,2.25,-44,2.75,-33,3.25,-42,3.75,-48,4.25,-38,4.75,-45,5.25,-35,5.75,-43,6.25,-40,6.75,-49,7.25,-37,7.75,-44,8.25,-46,8.75,-39,9.25,-34,9.75,-42,
10.25,-38,10.75,-45,11.25,-41,11.75,-36,12.25,-48,12.75,-40,13.25,-35,13.75,-43,14.25,-47,14.75,-38,15.25,-44,15.75,-33,16.25,-40,16.75,-46,17.25,-37,17.75,-42,18.25,-39,18.75,-50,19.25,-36,19.75,-44,
20.25,-41,20.75,-37,21.25,-47,21.75,-40,22.25,-34,22.75,-45,23.25,-42,23.75,-38,24.25,-49,24.75,-43,25.25,-39,25.75,-46,26.25,-35,26.75,-41,27.25,-48,27.75,-37,28.25,-44,28.75,-40,29.25,-36,29.75,-47,
30.25,-38,30.75,-45,31.25,-41,31.75,-33,32.25,-43,32.75,-49,33.25,-37,33.75,-42,34.25,-46,34.75,-39,35.25,-44,35.75,-35,36.25,-41,36.75,-48,37.25,-36,37.75,-45,38.25,-40,38.75,-38,39.25,-47,39.75,-42,
40.25,-35,40.75,-44,41.25,-39,41.75,-50,42.25,-43,42.75,-37,43.25,-46,43.75,-40,44.25,-38,44.75,-42,45.25,-47,45.75,-34,46.25,-41,46.75,-45,47.25,-36,47.75,-43,48.25,-40,48.75,-48,49.25,-38,49.75,-44,
50.25,-41,50.75,-36,51.25,-46,51.75,-39,52.25,-43,52.75,-35,53.25,-47,53.75,-40,54.25,-37,54.75,-45,55.25,-42,55.75,-49,56.25,-38,56.75,-44,57.25,-36,57.75,-41,58.25,-47,58.75,-39,59.25,-43,59.75,-34,
60.25,-40,60.75,-46,61.25,-37,61.75,-44,62.25,-41,62.75,-48,63.25,-39,63.75,-43,64.25,-35,64.75,-45,65.25,-40,65.75,-47,66.25,-38,66.75,-42,67.25,-46,67.75,-36,68.25,-43,68.75,-40,69.25,-49,69.75,-37,
70.25,-44,70.75,-39,71.25,-45,71.75,-35,72.25,-42,72.75,-47,73.25,-37,73.75,-43,74.25,-40,74.75,-48,75.25,-36,75.75,-44,76.25,-41,76.75,-46,77.25,-39,77.75,-34,78.25,-45,78.75,-42,79.25,-38,79.75,-47,
80.25,-40,80.75,-43,81.25,-36,81.75,-49,82.25,-41,82.75,-38,83.25,-45,83.75,-40,84.25,-35,84.75,-46,85.25,-42,85.75,-37,86.25,-44,86.75,-40,87.25,-48,87.75,-36,88.25,-43,88.75,-45,89.25,-39,89.75,-34,
90.25,-47,90.75,-41,91.25,-38,91.75,-44,92.25,-42,92.75,-36,93.25,-49,93.75,-40,94.25,-45,94.75,-38,95.25,-43,95.75,-35,96.25,-46,96.75,-41,97.25,-37,97.75,-48,98.25,-42,98.75,-39,99.25,-44,99.75,-40
];
const eRed = [
0,165,0.5,150,1,143,0.3,157,0,135,5.5,130,6,140,6.5,135,7,125,
12.7,140,13,155,13.5,128,14,165,14.5,148,15,135,15.5,170,16,150,16.5,125,17,160,17.5,142,18,175,18.5,138,19,155,19.5,148,20,168,20.5,132,21,158,21.5,145,22,178,
22.5,150,23,162,23.5,140,24,155,24.5,170,25,148,25.5,135,26,160,26.5,150,27,142,14,115,16,120,19,118,21,165,23,128,25,158,17,150,20,140,24,135,18,160,
22,138,15,152,13,118,26,130,26.8,120,
13.25,150,15.25,140,17.25,168,19.25,135,21.25,150,23.25,155,25.25,140,14.75,130,16.75,145,18.75,158,20.75,150,22.75,165,24.75,148,
14,103,20.6,110,12.7,70,15.3,90,15.8,-150,18.6,-163,11.3,-77,1,-35,2.5,-40,
0,67,0.3,62,0,25,0.5,10,1,40,1.5,-5,2,55,2.5,20,3,35,3.5,5,4,60,4.5,28,5,45,5.5,12,6,70,6.5,30,7,50,7.5,18,8,38,8.5,65,
9,25,9.5,48,10,8,10.5,35,11,58,11.5,22,12,42,12.5,75,13,30,13.5,52,14,15,14.5,40,15,62,16,28,17,48,18,20,19,38,20,55,21,12,22,45,
22.5,80,23,30,24,58,25,20,26,40,4,-20,8,-15,2,-25,1,-30,
27,30,27.5,55,28,18,28.5,42,29,65,29.5,25,30,48,30.5,10,31,38,31.5,60,32,28,32.5,50,33,15,33.5,44,34,72,34.5,32,35,55,35.5,22,36,40,36.5,62,
37,12,37.5,46,38,35,38.5,58,39,25,39.5,50,40,70,40.5,38,41,20,41.5,55,42,42,42.5,30,43,65,43.5,48,44,15,44.5,52,45,36,45.5,75,46,28,46.5,44,
47,58,47.5,20,48,50,48.5,38,49,62,49.5,30,50,45,50.5,10,51,55,51.5,35,52,68,52.5,25,53,48,53.5,40,54,60,54.5,18,55,52,55.5,33,56,45,56.5,70,
57,28,57.5,55,58,40,58.5,15,59,62,59.5,36,60,48,60.5,25,61,58,61.5,42,62,75,62.5,30,63,52,63.5,110,64,38,64.5,20,65,60,65.5,45,66,32,66.5,66,
67,50,67.5,12,68,40,68.5,56,69,28,69.5,44,70,62,70.5,35,71,18,71.5,50,72,30,
27.5,35,28.5,62,29.5,45,30.5,32,31.5,20,32.5,70,33.5,58,34.5,48,35.5,40,36.5,28,37.5,66,38.5,18,39.5,38,40.5,52,41.5,30,42.5,60,43.5,25,44.5,40,45.5,50,46.5,65,
47.5,42,48.5,22,49.5,55,50.5,38,51.5,72,52.5,48,53.5,20,54.5,42,55.5,64,56.5,35,57.5,40,58.5,52,59.5,22,60.5,68,61.5,30,62.5,50,63.5,40,64.5,58,65.5,25,66.5,45,
67.5,38,68.5,70,69.5,15,70.5,48,71.5,36,45,85,55,90,60,88,35,82,50,95,66,100,68,5,40,5,30,0,71,-2,72,10,
27.25,48,28.25,30,29.25,55,30.25,22,31.25,45,32.25,62,33.25,35,34.25,20,35.25,50,36.25,38,37.25,60,38.25,28,39.25,45,40.25,15,41.25,48,42.25,35,43.25,58,44.25,30,45.25,42,46.25,62,
47.25,25,48.25,55,49.25,40,50.25,68,51.25,28,52.25,45,53.25,58,54.25,35,55.25,22,56.25,50,57.25,40,58.25,65,59.25,30,60.25,45,61.25,20,62.25,55,63.25,38,64.25,48,65.25,30,66.25,58,
67.25,42,68.25,25,69.25,52,70.25,40,71.25,60,
28.75,52,30.75,38,32.75,25,34.75,60,36.75,48,38.75,40,40.75,62,42.75,20,44.75,55,46.75,35,48.75,30,50.75,50,52.75,35,54.75,62,56.75,28,58.75,48,60.75,40,62.75,60,64.75,35,66.75,25,
68.75,48,70.75,55,
72,155,72.5,140,73,168,73.5,132,74,160,74.5,148,75,175,75.5,138,76,158,76.5,145,77,128,77.5,165,78,150,78.5,140,79,170,79.5,155,80,132,80.5,148,81,162,81.5,142,
82,125,82.5,158,83,150,83.5,170,84,138,84.5,155,85,145,85.5,130,86,165,86.5,150,87,140,87.5,172,88,155,88.5,135,89,160,89.5,148,90,122,90.5,158,91,145,91.5,168,
92,138,92.5,152,93,160,93.5,132,94,150,94.5,175,95,142,95.5,155,96,128,96.5,162,97,148,97.5,138,98,165,98.5,150,99,140,99.5,158,100,145,
72.5,165,73.5,150,74.5,130,75.5,160,76.5,170,77.5,142,78.5,158,79.5,130,80.5,165,81.5,152,82.5,140,83.5,135,84.5,168,85.5,152,86.5,128,87.5,145,88.5,162,89.5,140,90.5,135,91.5,150,
92.5,165,93.5,145,94.5,155,95.5,130,96.5,148,97.5,160,98.5,135,99.5,150,74,115,78,110,84,105,88,120,96,112,99,118,86,100,92,115,76,125,98,178,81,178,90,178,
73.25,145,74.25,170,75.25,150,76.25,135,77.25,158,78.25,128,79.25,148,80.25,160,81.25,135,82.25,150,83.25,142,84.25,162,85.25,138,86.25,155,87.25,130,88.25,148,89.25,170,90.25,150,91.25,135,92.25,158,
93.25,140,94.25,130,95.25,165,96.25,145,97.25,152,98.25,128,99.25,165,
73,-127,73.2,-140,73.5,-150,73,-160,73.3,-170,72.8,-165,73.6,-135
];
const fBlack = [
0,-35,0.5,-42,1,-30,1.5,-46,2,-38,2.5,-33,3,-44,3.5,-40,4,-28,4.5,-37,5,-48,5.5,-35,6,-41,6.5,-31,7,-45,7.5,-38,8,-34,8.5,-50,9,-40,9.5,-36,
10,-43,10.5,-29,11,-39,11.5,-46,12,-35,12.5,-41,13,-32,13.5,-47,14,-38,14.5,-43,15,-36,15.5,-30,16,-44,16.5,-39,17,-50,17.5,-34,18,-41,18.5,-37,19,-45,19.5,-32,
20,-40,20.5,-46,21,-36,21.5,-42,22,-31,22.5,-38,23,-48,23.5,-35,24,-41,24.5,-44,25,-33,25.5,-39,26,-45,26.5,-37,27,-42,27.5,-30,28,-47,28.5,-36,29,-40,29.5,-34,
30,-44,30.5,-38,31,-49,31.5,-35,32,-41,32.5,-31,33,-43,33.5,-39,34,-46,34.5,-36,35,-40,35.5,-33,36,-45,36.5,-38,37,-42,37.5,-28,38,-47,38.5,-37,39,-41,39.5,-34,
40,-44,40.5,-39,41,-50,41.5,-36,42,-40,42.5,-32,43,-45,43.5,-38,44,-42,44.5,-35,45,-48,45.5,-40,46,-33,46.5,-44,47,-37,47.5,-41,48,-30,48.5,-46,49,-39,49.5,-35,
50,-43,50.5,-38,51,-47,51.5,-33,52,-41,52.5,-36,53,-44,53.5,-40,54,-31,54.5,-45,55,-38,55.5,-42,56,-35,56.5,-49,57,-39,57.5,-34,58,-43,58.5,-37,59,-41,59.5,-46,
60,-33,60.5,-40,61,-44,61.5,-36,62,-48,62.5,-38,63,-42,63.5,-32,64,-45,64.5,-39,65,-35,65.5,-43,66,-40,66.5,-47,67,-34,67.5,-41,68,-37,68.5,-44,69,-30,69.5,-39,
70,-46,70.5,-36,71,-42,71.5,-38,72,-33,72.5,-45,73,-40,73.5,-36,74,-48,74.5,-41,75,-35,75.5,-43,76,-38,76.5,-31,77,-46,77.5,-39,78,-42,78.5,-36,79,-44,79.5,-34,
80,-40,80.5,-47,81,-37,81.5,-42,82,-32,82.5,-45,83,-39,83.5,-35,84,-43,84.5,-50,85,-38,85.5,-41,86,-34,86.5,-44,87,-40,87.5,-36,88,-46,88.5,-31,89,-42,89.5,-39,
90,-45,90.5,-35,91,-41,91.5,-37,92,-48,92.5,-33,93,-43,93.5,-40,94,-36,94.5,-45,95,-38,95.5,-42,96,-30,96.5,-44,97,-39,97.5,-35,98,-47,98.5,-40,99,-36,99.5,-43,100,-38,
0,-20,5,-15,10,-12,16,-15,30,-20,47,-22,75,-18,85,-62,18,-58,2,-55,60,-18,90,-58,40,-58
];
const fBlackDense = [
0.25,-40,0.75,-33,1.25,-44,1.75,-37,2.25,-42,2.75,-48,3.25,-35,3.75,-41,4.25,-45,4.75,-32,5.25,-39,5.75,-43,6.25,-36,6.75,-47,7.25,-40,7.75,-34,8.25,-42,8.75,-38,9.25,-45,9.75,-31,
10.25,-37,10.75,-44,11.25,-40,11.75,-35,12.25,-48,12.75,-38,13.25,-42,13.75,-36,14.25,-33,14.75,-46,15.25,-41,15.75,-39,16.25,-35,16.75,-44,17.25,-38,17.75,-42,18.25,-47,18.75,-33,19.25,-40,19.75,-37,
20.25,-43,20.75,-35,21.25,-46,21.75,-39,22.25,-41,22.75,-34,23.25,-38,23.75,-45,24.25,-36,24.75,-42,25.25,-48,25.75,-37,26.25,-40,26.75,-33,27.25,-44,27.75,-39,28.25,-36,28.75,-43,29.25,-41,29.75,-47,
30.25,-35,30.75,-42,31.25,-38,31.75,-44,32.25,-37,32.75,-40,33.25,-46,33.75,-34,34.25,-41,34.75,-39,35.25,-43,35.75,-36,36.25,-48,36.75,-40,37.25,-35,37.75,-44,38.25,-38,38.75,-42,39.25,-33,39.75,-45,
40.25,-37,40.75,-41,41.25,-36,41.75,-43,42.25,-47,42.75,-39,43.25,-34,43.75,-42,44.25,-40,44.75,-46,45.25,-36,45.75,-44,46.25,-39,46.75,-35,47.25,-43,47.75,-48,48.25,-38,48.75,-41,49.25,-45,49.75,-33,
50.25,-40,50.75,-36,51.25,-42,51.75,-44,52.25,-37,52.75,-47,53.25,-39,53.75,-35,54.25,-43,54.75,-40,55.25,-46,55.75,-34,56.25,-41,56.75,-38,57.25,-44,57.75,-36,58.25,-48,58.75,-40,59.25,-35,59.75,-42,
60.25,-39,60.75,-45,61.25,-37,61.75,-41,62.25,-34,62.75,-43,63.25,-47,63.75,-38,64.25,-42,64.75,-36,65.25,-44,65.75,-39,66.25,-33,66.75,-41,67.25,-46,67.75,-37,68.25,-40,68.75,-43,69.25,-35,69.75,-48,
70.25,-38,70.75,-42,71.25,-36,71.75,-45,72.25,-40,72.75,-34,73.25,-43,73.75,-39,74.25,-37,74.75,-46,75.25,-41,75.75,-35,76.25,-44,76.75,-39,77.25,-36,77.75,-48,78.25,-40,78.75,-33,79.25,-42,79.75,-45,
80.25,-37,80.75,-41,81.25,-46,81.75,-35,82.25,-43,82.75,-39,83.25,-36,83.75,-44,84.25,-40,84.75,-34,85.25,-47,85.75,-38,86.25,-42,86.75,-36,87.25,-45,87.75,-41,88.25,-33,88.75,-43,89.25,-39,89.75,-37,
90.25,-44,90.75,-40,91.25,-35,91.75,-46,92.25,-38,92.75,-42,93.25,-36,93.75,-47,94.25,-41,94.75,-34,95.25,-43,95.75,-39,96.25,-37,96.75,-45,97.25,-40,97.75,-33,98.25,-42,98.75,-46,99.25,-38,99.75,-41
];
const fRed = [
0,164,0.5,150,1,138,0.5,120,1,104,0.3,130,0.8,158,
0,60,0.5,45,1,30,1.5,55,2,15,2.5,40,3,68,3.5,25,4,50,4.5,8,5,35,5.5,62,1,10,3,4,2,48,
5.6,120,6,135,6.2,150,6.5,164,6.8,140,7,125,7.2,110,7.5,145,6,155,7,130,6.5,118,
7.5,30,8,10,8.5,45,9,-5,9.5,22,10,38,10.5,5,11,28,11.5,48,12,15,12.5,-8,13,35,13.5,20,14,42,14.5,2,15,30,15.5,12,16,40,16.5,25,9,35,
11,-10,13,50,15,-2,10,18,12,32,18,-45,12,-40,
12.5,150,13,165,13.5,135,14,172,14.5,145,15,158,15.5,128,16,168,16.5,140,17,180,17.5,155,17.8,130,13,140,14,125,15,175,16,150,17,162,14.5,160,16.5,123,15.5,145,
18,135,18.5,148,19,128,19.5,142,20,120,20.5,138,21,150,21.5,130,22,145,22.5,118,23,140,23.5,132,24,148,24.5,125,25,138,25.5,143,20,145,22,125,24,136,19,116,
21,140,23,150,25,128,
20.4,-81,98,-101,7,-153,52.8,96,52.5,85,77.4,62,
20,20,21,45,22,5,23,35,24,60,25,15,20.5,-8,22.5,50,24.5,28,
25.5,40,26,22,26.5,55,27,30,27.5,12,28,48,28.5,35,29,62,29.5,20,30,42,30.5,28,31,55,31.5,15,32,45,32.5,38,33,65,33.5,25,34,50,34.5,32,35,58,
35.5,42,36,20,36.5,52,37,70,37.5,38,38,48,38.5,28,39,60,39.5,45,40,35,40.5,55,41,68,41.5,40,42,25,42.5,52,43,62,43.5,45,44,35,44.5,58,45,48,
45.5,66,46,30,46.5,55,47,42,47.5,60,48,38,48.5,50,49,25,49.5,62,50,45,50.5,55,51,35,51.5,48,52,20,
26,8,27,42,28,25,29,40,30,10,31,35,32,60,33,18,34,40,35,30,36,62,37,50,38,72,39,35,40,48,41,28,42,60,43,38,44,70,45,40,
46,52,47,65,48,58,49,44,50,70,51,58,52,40,28,5,36,10,44,15,50,12,35,75,46,72,30,60,40,65,49,52,38,55,42,45,47,50,
26.25,35,27.25,20,28.25,45,29.25,30,30.25,55,31.25,40,32.25,25,33.25,48,34.25,62,35.25,38,36.25,45,37.25,30,38.25,62,39.25,50,40.25,42,41.25,55,42.25,38,43.25,50,44.25,65,45.25,55,
46.25,45,47.25,55,48.25,68,49.25,40,50.25,60,51.25,50,
53,140,53.5,160,54,128,54.5,150,55,170,55.5,135,56,148,56.5,158,57,125,57.5,165,58,142,58.5,152,59,115,59.5,162,60,138,60.5,150,61,130,61.5,172,62,145,62.5,158,
63,135,63.5,165,64,148,64.5,178,65,140,65.5,155,66,130,66.5,168,67,145,67.5,152,68,125,68.5,160,69,142,69.5,150,70,135,70.5,162,71,145,71.5,128,72,150,
53,155,54,145,55,132,56,165,57,150,58,130,59,145,60,170,61,155,62,128,63,150,64,138,65,165,66,148,67,135,68,158,69,130,70,150,71,160,
54.5,118,60,102,61,100,63,112,66.5,120,69.5,115,59,178,65,178,66,176,56,142,62,140,68,142,57,138,64,160,
54.25,155,55.25,145,56.25,130,57.25,158,58.25,148,59.25,135,60.25,160,61.25,142,62.25,150,63.25,128,64.25,155,65.25,148,66.25,140,67.25,165,68.25,138,69.25,155,70.25,145,71.25,150,
72,20,72.5,-5,73,35,73.5,10,74,-20,74.5,25,75,0,75.5,40,76,-15,76.5,15,77,30,77.5,-8,78,22,78.5,-30,79,5,79.5,35,80,-12,80.5,18,81,-40,81.5,28,
82,8,82.5,-20,83,38,83.5,12,84,-5,84.5,25,85,-25,85.5,15,86,32,86.5,0,87,-15,87.5,20,88,40,88.5,-10,89,10,89.5,-35,90,25,90.5,5,91,-20,91.5,15,
92,-5,92.5,28,93,-50,93.5,8,94,-15,94.5,30,95,-28,95.5,12,96,-8,96.5,22,97,-40,97.5,5,98,18,98.5,-18,99,30,99.5,0,100,-25,
73,-30,74,45,75,-45,76,28,77,-52,78,10,79,-22,80,42,81,-5,82,30,83,-48,84,18,85,40,86,-35,87,5,88,-28,89,32,90,-45,91,38,92,12,
93,20,94,-30,95,45,96,-55,97,25,98,-10,99,15,100,35,80,-60,84,-58,74,0,82,-35,88,15,91,0,76,50,86,15,96,40,79,-45,
72.75,5,73.75,-15,74.75,15,75.75,-25,76.75,5,77.75,20,78.75,-10,79.75,12,80.75,-30,81.75,0,82.75,18,83.75,-22,84.75,8,85.75,-8,86.75,25,87.75,-20,88.75,10,89.75,-5,90.75,18,91.75,-30,
92.75,0,93.75,22,94.75,-12,95.75,5,96.75,-20,97.75,30,98.75,-5,99.75,15,
93.8,176,94,165,94.3,150,94.5,140,94.8,128,95,113,95.5,160,95.9,170,94.6,120
];

const panels = [
  { black: aBlack.concat(aBlackDense), red: aRed },
  { black: bBlack.concat(bBlackDense), red: bRed },
  { black: cBlack.concat(cBlackDense), red: cRed },
  { black: dBlack, red: dRed },
  { black: eBlack.concat(eBlackDense), red: eRed },
  { black: fBlack.concat(fBlackDense), red: fRed }
];

function pairs(a) { const r = []; for (let i = 0; i < a.length; i += 2) r.push([a[i], a[i + 1]]); return r; }

const FONT = 'Liberation Sans, Arial, sans-serif';
const colLeft = [47, 328];
const colWidth = [257, 256];
const rowTop = [2, 187.5, 373.5];
const H = 181;

const grid = [], xAxis = [], yAxis = [], series = [], graphic = [];
const labelPos = [[48, 8], [48, 195], [48, 383], [329, 156], [329, 343], [329, 530]];

for (let p = 0; p < 6; p++) {
  const col = p < 3 ? 0 : 1, row = p % 3;
  grid.push({ left: colLeft[col], top: rowTop[row], width: colWidth[col], height: H, show: false });
}
const lineStyle = { color: '#000', width: 2 };
for (let p = 0; p < 6; p++) {
  const col = p < 3 ? 0 : 1, row = p % 3;
  const bottomRow = row === 2;
  xAxis.push({
    type: 'value', gridIndex: p, min: xTicks[0], max: xTicks[xTicks.length - 1], interval: 20, position: 'bottom',
    axisLine: { show: true, onZero: false, lineStyle },
    axisTick: { show: true, inside: true, length: 6, lineStyle: { color: '#000', width: 1.2 } },
    axisLabel: { show: bottomRow, color: '#000', fontSize: 18, fontFamily: FONT, margin: 5, hideOverlap: false, showMinLabel: true, showMaxLabel: true },
    splitLine: { show: false },
    name: bottomRow ? axisTitle : '', nameLocation: 'middle', nameGap: 24,
    nameTextStyle: { color: '#000', fontSize: 21, fontFamily: FONT }
  });
  yAxis.push({
    type: 'value', gridIndex: p, min: -180, max: 180, position: 'left',
    axisLine: { show: true, onZero: false, lineStyle },
    axisTick: { show: true, inside: true, length: 6, customValues: yTicks, lineStyle: { color: '#000', width: 1.2 } },
    axisLabel: { show: col === 0, customValues: yTicks, color: '#000', fontSize: 17, fontFamily: FONT, margin: 8 },
    splitLine: { show: false }
  });
}
for (let p = 0; p < 6; p++) {
  xAxis.push({
    type: 'value', gridIndex: p, min: 0, max: 100, interval: 20, position: 'top',
    axisLine: { show: true, onZero: false, lineStyle },
    axisTick: { show: true, inside: true, length: 6, lineStyle: { color: '#000', width: 1.2 } },
    axisLabel: { show: false }, splitLine: { show: false }
  });
  yAxis.push({
    type: 'value', gridIndex: p, min: -180, max: 180, position: 'right',
    axisLine: { show: true, onZero: false, lineStyle },
    axisTick: { show: true, inside: true, length: 6, customValues: yTicks, lineStyle: { color: '#000', width: 1.2 } },
    axisLabel: { show: false }, splitLine: { show: false }
  });
}
for (let p = 0; p < 6; p++) {
  series.push({
    type: 'scatter', xAxisIndex: p, yAxisIndex: p, data: pairs(panels[p].red),
    symbol: 'circle', symbolSize: 4.5, itemStyle: { color: '#ff0000' }, silent: true, z: 2, large: false
  });
  series.push({
    type: 'scatter', xAxisIndex: p, yAxisIndex: p, data: pairs(panels[p].black),
    symbol: 'circle', symbolSize: 4.5, itemStyle: { color: '#000000' }, silent: true, z: 3, large: false
  });
  graphic.push({
    type: 'text', left: labelPos[p][0], top: labelPos[p][1], z: 100,
    style: { text: panelLabels[p], fill: '#000', font: '18px ' + FONT }
  });
}

const chart = echarts.init(document.getElementById('c'), null, { renderer: 'canvas' });
chart.setOption({ animation: false, backgroundColor: '#fff', grid, xAxis, yAxis, series, graphic });
</script>
</body></html>
